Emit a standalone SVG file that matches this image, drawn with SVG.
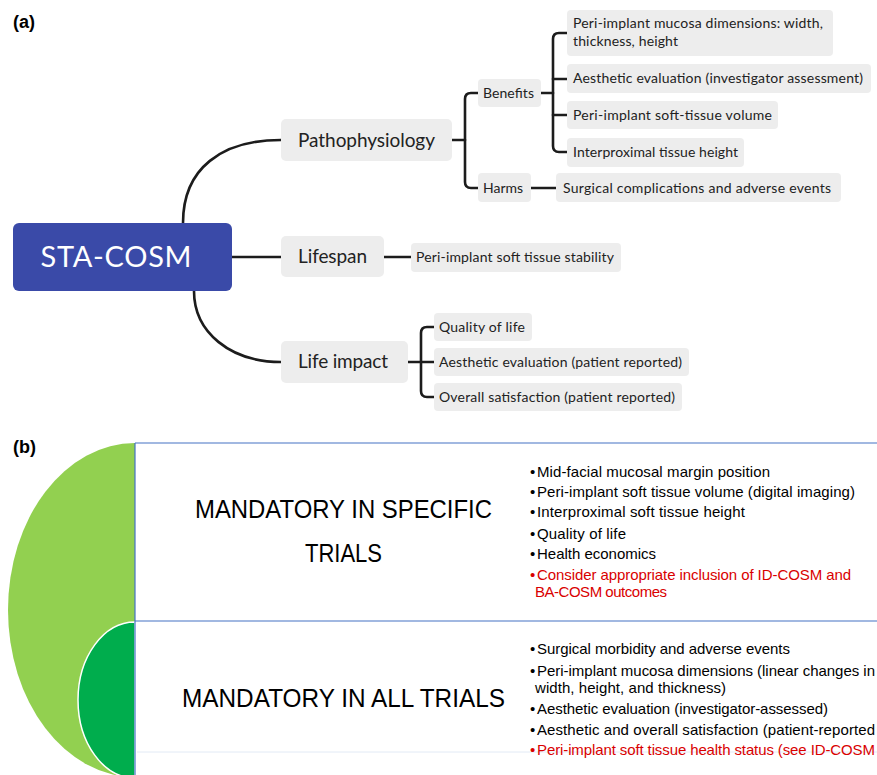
<svg xmlns="http://www.w3.org/2000/svg" width="877" height="775" viewBox="0 0 877 775">
<style>
.bx{fill:#ededed}
.t{font-family:Lato,"Liberation Sans",sans-serif;fill:#222}
.s{font-size:14px}
.m{font-size:19px}
.ln{fill:none;stroke:#1c1c1c;stroke-width:2.6;stroke-linecap:round}
.lbl{font-family:"Liberation Sans",Arial,sans-serif;font-weight:bold;font-size:18px;fill:#000}
.big{font-family:"Liberation Sans",Arial,sans-serif;font-size:25px;fill:#000}
.b{font-family:"Liberation Sans",Arial,sans-serif;font-size:15px;fill:#000}
.r{fill:#d90000}
.bl{stroke:#4472c4;stroke-width:1.2;fill:none}
</style>
<rect width="877" height="775" fill="#fff"/>
<text class="lbl" x="13" y="28">(a)</text>
<text class="lbl" x="13" y="453">(b)</text>

<g id="connectors">
<path class="ln" d="M183,223 C183,168 222,140 281,140"/>
<path class="ln" d="M194,291 C194,332 230,362 281,362"/>
<path class="ln" d="M232,257 H281"/>
<path class="ln" d="M384,257 H411"/>
<path class="ln" d="M452,140 H465"/>
<path class="ln" d="M478,93 H471 Q465,93 465,99 V182 Q465,188 471,188 H478"/>
<path class="ln" d="M541,93 H553"/>
<path class="ln" d="M567,33 H559 Q553,33 553,39 V146 Q553,152 559,152 H567"/>
<path class="ln" d="M553,79 H567"/>
<path class="ln" d="M553,115 H567"/>
<path class="ln" d="M531,188 H556"/>
<path class="ln" d="M408,362 H434"/>
<path class="ln" d="M434,327 H427 Q421,327 421,333 V391 Q421,397 427,397 H434"/>
</g>

<g id="sta-cosm">
<rect x="13" y="223" width="219" height="68" rx="6" fill="#3a4aa8"/>
<text x="116" y="267" text-anchor="middle" font-family="Lato,'Liberation Sans',sans-serif" font-size="29" fill="#fff" textLength="151">STA-COSM</text>
</g>
<g id="pathophysiology">
<rect class="bx" x="281" y="119" width="171" height="42" rx="5"/>
<text class="t m" x="298" y="147" textLength="137">Pathophysiology</text>
</g>
<g id="lifespan">
<rect class="bx" x="281" y="236" width="103" height="41" rx="5"/>
<text class="t m" x="298" y="263" textLength="69">Lifespan</text>
</g>
<g id="life-impact">
<rect class="bx" x="281" y="341" width="127" height="42" rx="5"/>
<text class="t m" x="298" y="368" textLength="90">Life impact</text>
</g>
<g id="benefits">
<rect class="bx" x="478" y="79" width="63" height="28" rx="4"/>
<text class="t s" x="483" y="98" textLength="51">Benefits</text>
</g>
<g id="harms">
<rect class="bx" x="478" y="173" width="53" height="29" rx="4"/>
<text class="t s" x="483" y="193" textLength="40">Harms</text>
</g>
<g id="mucosa-dimensions">
<rect class="bx" x="567" y="10" width="266" height="46" rx="4"/>
<text class="t s" x="573" y="28" textLength="250">Peri-implant mucosa dimensions: width,</text>
<text class="t s" x="573" y="46" textLength="105">thickness, height</text>
</g>
<g id="aesthetic-investigator">
<rect class="bx" x="567" y="64" width="304" height="29" rx="4"/>
<text class="t s" x="573" y="83" textLength="290">Aesthetic evaluation (investigator assessment)</text>
</g>
<g id="soft-tissue-volume">
<rect class="bx" x="567" y="101" width="211" height="28" rx="4"/>
<text class="t s" x="573" y="120" textLength="199">Peri-implant soft-tissue volume</text>
</g>
<g id="interproximal">
<rect class="bx" x="567" y="138" width="177" height="29" rx="4"/>
<text class="t s" x="573" y="157" textLength="165">Interproximal tissue height</text>
</g>
<g id="surgical">
<rect class="bx" x="556" y="173" width="285" height="29" rx="4"/>
<text class="t s" x="563" y="193" textLength="268">Surgical complications and adverse events</text>
</g>
<g id="stability">
<rect class="bx" x="411" y="243" width="210" height="29" rx="4"/>
<text class="t s" x="416" y="262" textLength="198">Peri-implant soft tissue stability</text>
</g>
<g id="quality-of-life">
<rect class="bx" x="434" y="313" width="98" height="28" rx="4"/>
<text class="t s" x="439" y="332" textLength="86">Quality of life</text>
</g>
<g id="aesthetic-patient">
<rect class="bx" x="434" y="348" width="255" height="28" rx="4"/>
<text class="t s" x="439" y="367" textLength="243">Aesthetic evaluation (patient reported)</text>
</g>
<g id="overall-satisfaction">
<rect class="bx" x="434" y="383" width="248" height="28" rx="4"/>
<text class="t s" x="439" y="402" textLength="236">Overall satisfaction (patient reported)</text>
</g>

<g id="panel-b">
<path d="M135,443 A127,167 0 0 0 135,777 Z" fill="#92d050"/>
<path d="M135,622 A57,78 0 0 0 135,778 Z" fill="#00ad4d" stroke="#fff" stroke-width="1.5"/>
<line class="bl" x1="135" y1="443" x2="877" y2="443"/>
<line class="bl" x1="135" y1="621" x2="877" y2="621"/>
<line class="bl" x1="135" y1="443" x2="135" y2="775"/>
<line x1="137" y1="752" x2="877" y2="752" stroke="#e2eaf5" stroke-width="1"/>
</g>
<g id="specific">
<text class="big" x="343.5" y="518" text-anchor="middle" textLength="297" lengthAdjust="spacingAndGlyphs">MANDATORY IN SPECIFIC</text>
<text class="big" x="343.5" y="562" text-anchor="middle" textLength="77" lengthAdjust="spacingAndGlyphs">TRIALS</text>
<text class="b" x="530" y="477">•<tspan x="537" textLength="233">Mid-facial mucosal margin position</tspan></text>
<text class="b" x="530" y="497">•<tspan x="537" textLength="318">Peri-implant soft tissue volume (digital imaging)</tspan></text>
<text class="b" x="530" y="517">•<tspan x="537" textLength="208">Interproximal soft tissue height</tspan></text>
<text class="b" x="530" y="539">•<tspan x="537" textLength="89">Quality of life</tspan></text>
<text class="b" x="530" y="559">•<tspan x="537" textLength="119">Health economics</tspan></text>
<text class="b r" x="530" y="580">•<tspan x="537" textLength="314">Consider appropriate inclusion of ID-COSM and</tspan></text>
<text class="b r" x="535" y="597" textLength="132">BA-COSM outcomes</text>
</g>
<g id="all">
<text class="big" x="343.5" y="707" text-anchor="middle" textLength="323" lengthAdjust="spacingAndGlyphs">MANDATORY IN ALL TRIALS</text>
<text class="b" x="530" y="654">•<tspan x="537" textLength="253">Surgical morbidity and adverse events</tspan></text>
<text class="b" x="530" y="676">•<tspan x="537" textLength="338">Peri-implant mucosa dimensions (linear changes in</tspan></text>
<text class="b" x="535" y="693" textLength="191">width, height, and thickness)</text>
<text class="b" x="530" y="714">•<tspan x="537" textLength="291">Aesthetic evaluation (investigator-assessed)</tspan></text>
<text class="b" x="530" y="735">•<tspan x="537" textLength="338">Aesthetic and overall satisfaction (patient-reported</tspan></text>
<text class="b r" x="530" y="755">•<tspan x="537" textLength="338">Peri-implant soft tissue health status (see ID-COSM</tspan></text>
</g>
</svg>
